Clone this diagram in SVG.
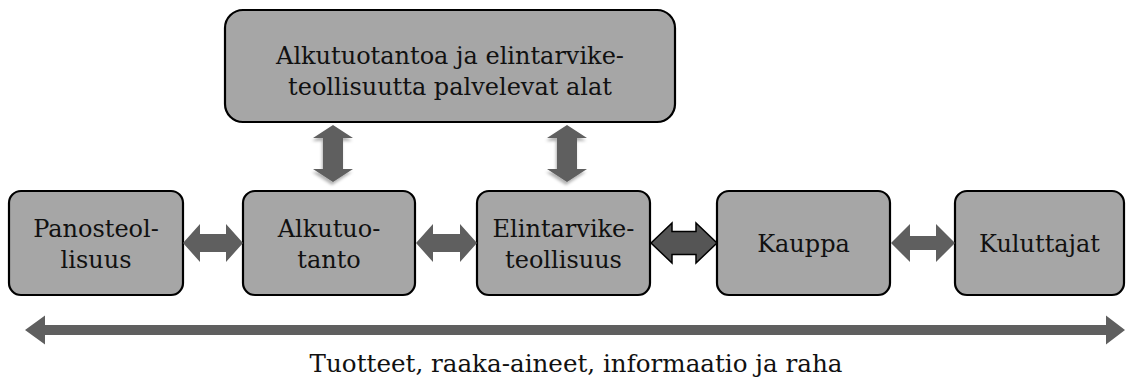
<svg xmlns="http://www.w3.org/2000/svg" width="1126" height="383" viewBox="0 0 1126 383">
  <defs>
    <style>
      .box { fill: #a6a6a6; stroke: #000; stroke-width: 2.2; }
      .lbl { font-family: "DejaVu Serif", "Liberation Serif", serif; font-size: 24px; fill: #111; text-anchor: middle; }
      .caption { font-size: 24.6px; }
      .arr { fill: #5f5f5f; }
      .arr-dark { fill: #555; stroke: #000; stroke-width: 1.5; stroke-linejoin: miter; }
    </style>
    <filter id="soft" x="-30%" y="-20%" width="160%" height="150%">
      <feDropShadow dx="-1" dy="3" stdDeviation="1.5" flood-color="#000" flood-opacity="0.3"/>
    </filter>
  </defs>

  <rect width="1126" height="383" fill="#fff"/>

  <g id="node-palvelevat">
    <rect class="box" x="225" y="10" width="450" height="112" rx="18"/>
    <text class="lbl" x="450" y="64">Alkutuotantoa ja elintarvike-</text>
    <text class="lbl" x="450" y="95">teollisuutta palvelevat alat</text>
  </g>

  <g id="node-panosteollisuus">
    <rect class="box" x="9" y="191" width="174" height="104" rx="12"/>
    <text class="lbl" x="96" y="237">Panosteol-</text>
    <text class="lbl" x="96" y="268">lisuus</text>
  </g>

  <g id="node-alkutuotanto">
    <rect class="box" x="243" y="191" width="172" height="104" rx="12"/>
    <text class="lbl" x="329" y="237">Alkutuo-</text>
    <text class="lbl" x="329" y="268">tanto</text>
  </g>

  <g id="node-elintarviketeollisuus">
    <rect class="box" x="477" y="191" width="173" height="104" rx="12"/>
    <text class="lbl" x="563.5" y="237">Elintarvike-</text>
    <text class="lbl" x="563.5" y="268">teollisuus</text>
  </g>

  <g id="node-kauppa">
    <rect class="box" x="717" y="191" width="173" height="104" rx="12"/>
    <text class="lbl" x="803.5" y="252">Kauppa</text>
  </g>

  <g id="node-kuluttajat">
    <rect class="box" x="955" y="191" width="169" height="104" rx="12"/>
    <text class="lbl" x="1039.5" y="252">Kuluttajat</text>
  </g>

  <g id="connectors">
    <!-- vertical links to the service sector -->
    <path class="arr" filter="url(#soft)" d="M333,125 L353,138 L343,138 L343,169 L353,169 L333,182 L313,169 L323,169 L323,138 L313,138 Z"/>
    <path class="arr" filter="url(#soft)" d="M567,125 L587,138 L577,138 L577,169 L587,169 L567,182 L547,169 L557,169 L557,138 L547,138 Z"/>
    <!-- horizontal links along the chain -->
    <path class="arr" d="M183,243 L200,224 L200,234 L226,234 L226,224 L243,243 L226,262 L226,252 L200,252 L200,262 Z"/>
    <path class="arr" d="M416,243 L433,224 L433,234 L460,234 L460,224 L477,243 L460,262 L460,252 L433,252 L433,262 Z"/>
    <path class="arr-dark" d="M651,243 L672,223 L672,231.5 L696,231.5 L696,223 L717,243 L696,263 L696,254.5 L672,254.5 L672,263 Z"/>
    <path class="arr" d="M891,243 L910,224 L910,236 L936,236 L936,224 L955,243 L936,262 L936,250 L910,250 L910,262 Z"/>
    <!-- flow along the whole chain -->
    <path class="arr" d="M25,330 L45,315.5 L45,325 L1106,325 L1106,315.5 L1125,330 L1106,344.5 L1106,335 L45,335 L45,344.5 Z"/>
  </g>

  <text class="lbl caption" x="576" y="372">Tuotteet, raaka-aineet, informaatio ja raha</text>
</svg>
